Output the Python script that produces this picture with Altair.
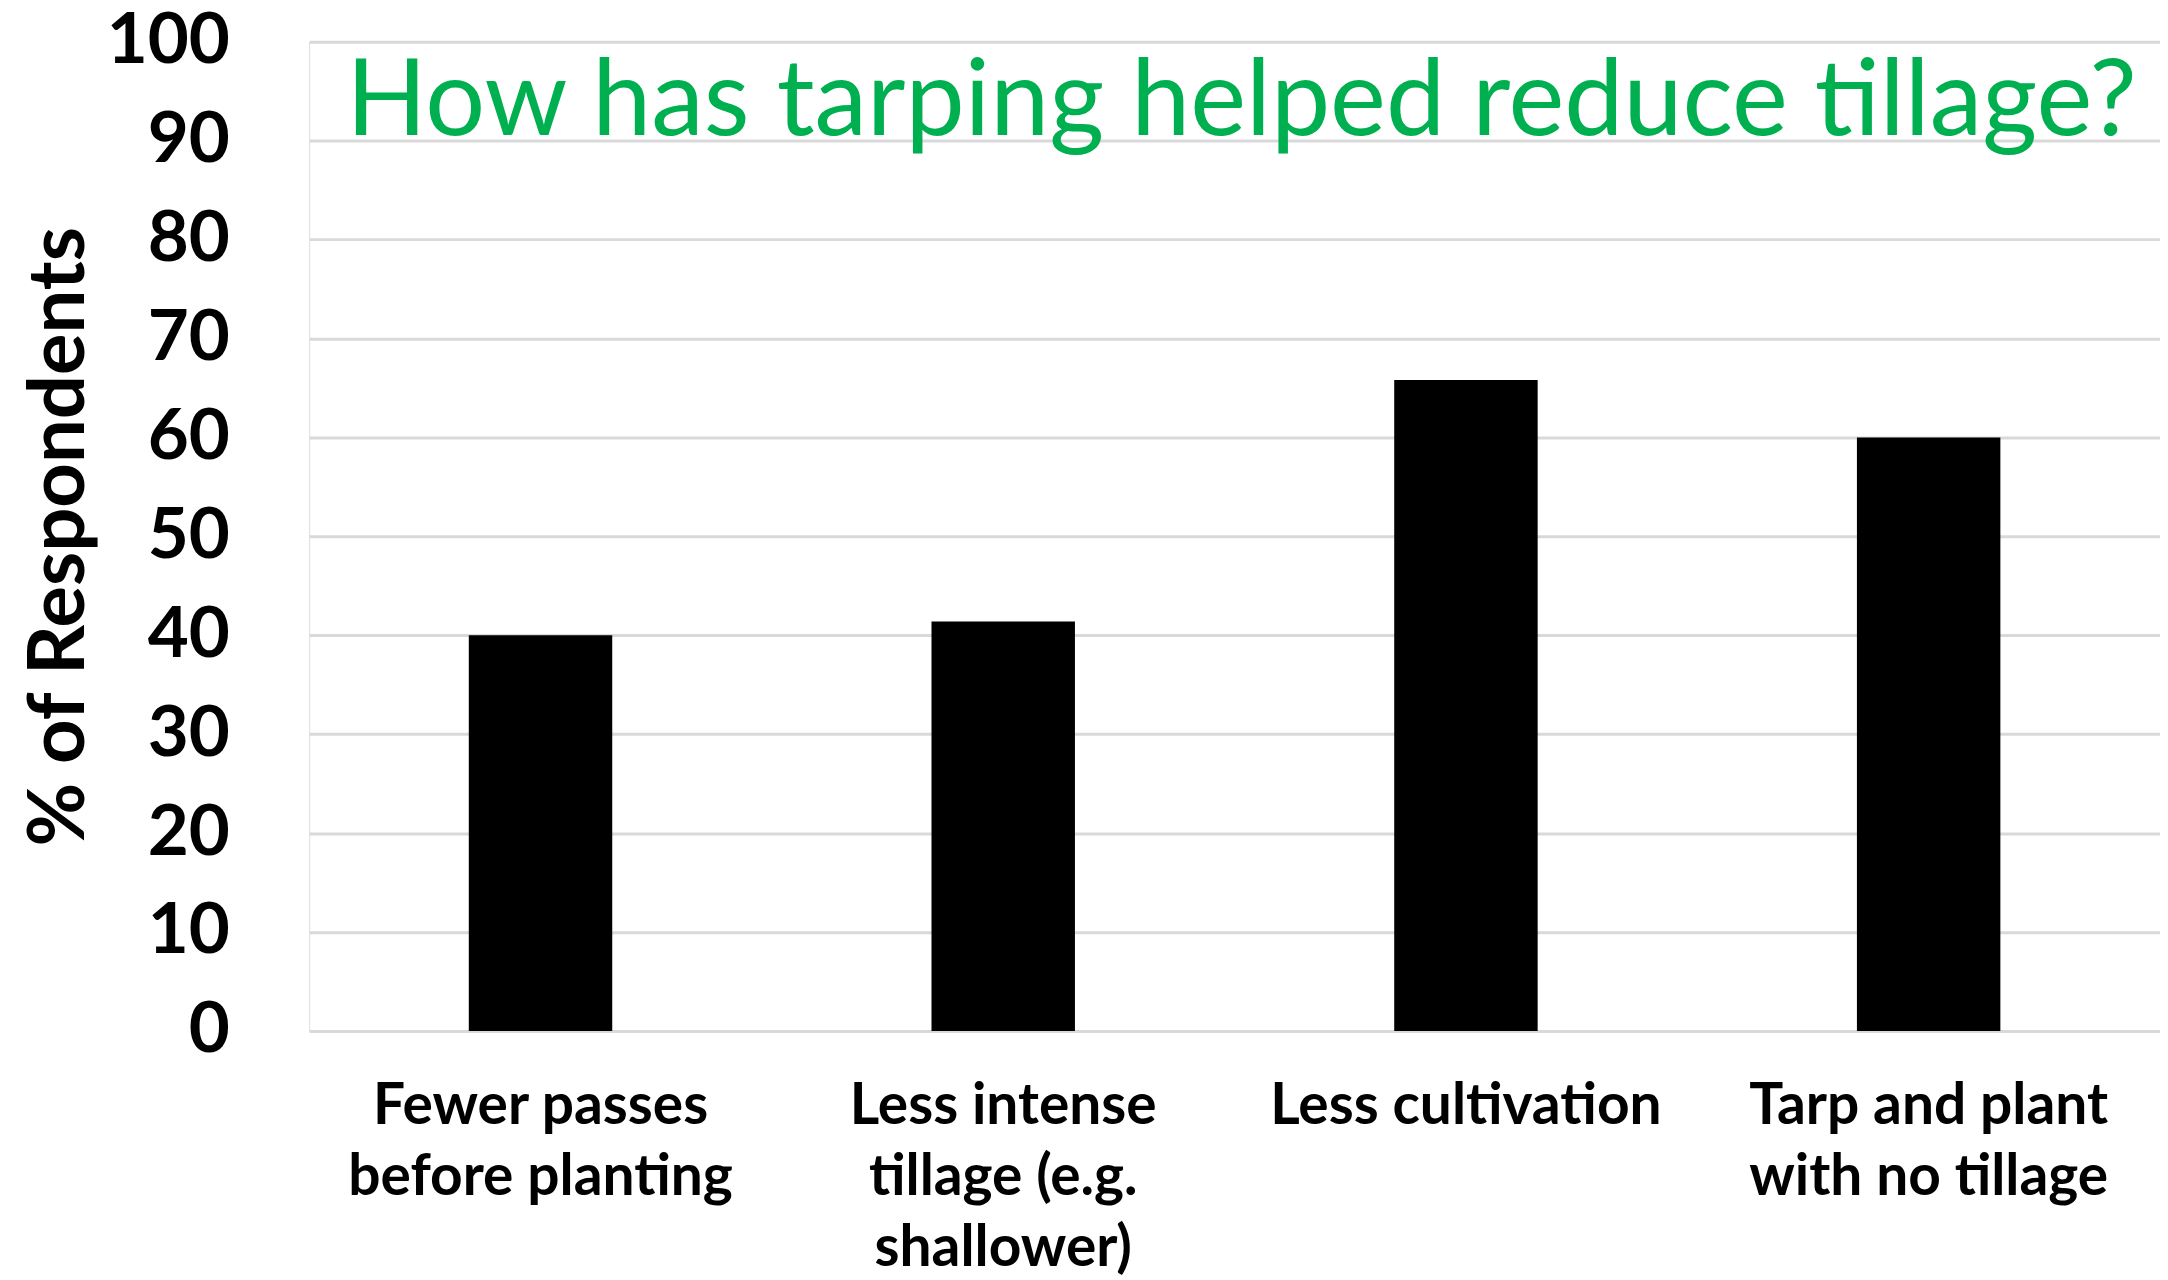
import altair as alt
import pandas as pd

categories = [
    "Fewer passes\nbefore planting",
    "Less intense\ntillage (e.g.\nshallower)",
    "Less cultivation",
    "Tarp and plant\nwith no tillage",
]
values = [40.0, 41.4, 65.8, 60.0]
y_ticks = [0, 10, 20, 30, 40, 50, 60, 70, 80, 90, 100]
title_text = "How has tarping helped reduce tillage?"

df = pd.DataFrame({"category": categories, "value": values})

W = 1856
H = 992
FONT = "Lato"

bars = alt.Chart(df).mark_bar(color="black").encode(
    x=alt.X(
        "category:N",
        sort=None,
        title=None,
        scale=alt.Scale(paddingInner=0.69, paddingOuter=0.345),
        axis=alt.Axis(
            labelExpr="split(datum.label, '\\n')",
            labelAngle=0,
            labelFont=FONT,
            labelFontWeight="bold",
            labelFontSize=57,
            labelLineHeight=71,
            labelColor="black",
            labelPadding=48,
            labelBaseline="top",
            labelLimit=0,
            ticks=False,
            domain=False,
            grid=False,
        ),
    ),
    y=alt.Y(
        "value:Q",
        title="% of Respondents",
        scale=alt.Scale(domain=[0, 100], nice=False),
        axis=alt.Axis(
            values=y_ticks,
            labelFont=FONT,
            labelFontWeight="bold",
            labelFontSize=71,
            labelColor="black",
            labelPadding=80,
            ticks=False,
            domain=False,
            grid=True,
            gridColor="#D9D9D9",
            gridWidth=3,
            titleFont=FONT,
            titleFontWeight="bold",
            titleFontSize=78,
            titleColor="black",
            titlePadding=10,
        ),
    ),
)

title = alt.Chart(pd.DataFrame({"t": [title_text]})).mark_text(
    font=FONT,
    fontSize=106,
    color="#00B050",
    align="center",
    baseline="alphabetic",
).encode(
    text="t:N",
    x=alt.value(W / 2 + 7),
    y=alt.value(94),
)

chart = alt.layer(bars, title).properties(
    width=W,
    height=H,
    autosize=alt.AutoSizeParams(type="none"),
    padding={"left": 302, "top": 32, "right": 0, "bottom": 248},
).configure_view(stroke=None).configure(background="white")

chart.save("out.html", embed_options={"renderer": "svg", "actions": False})
